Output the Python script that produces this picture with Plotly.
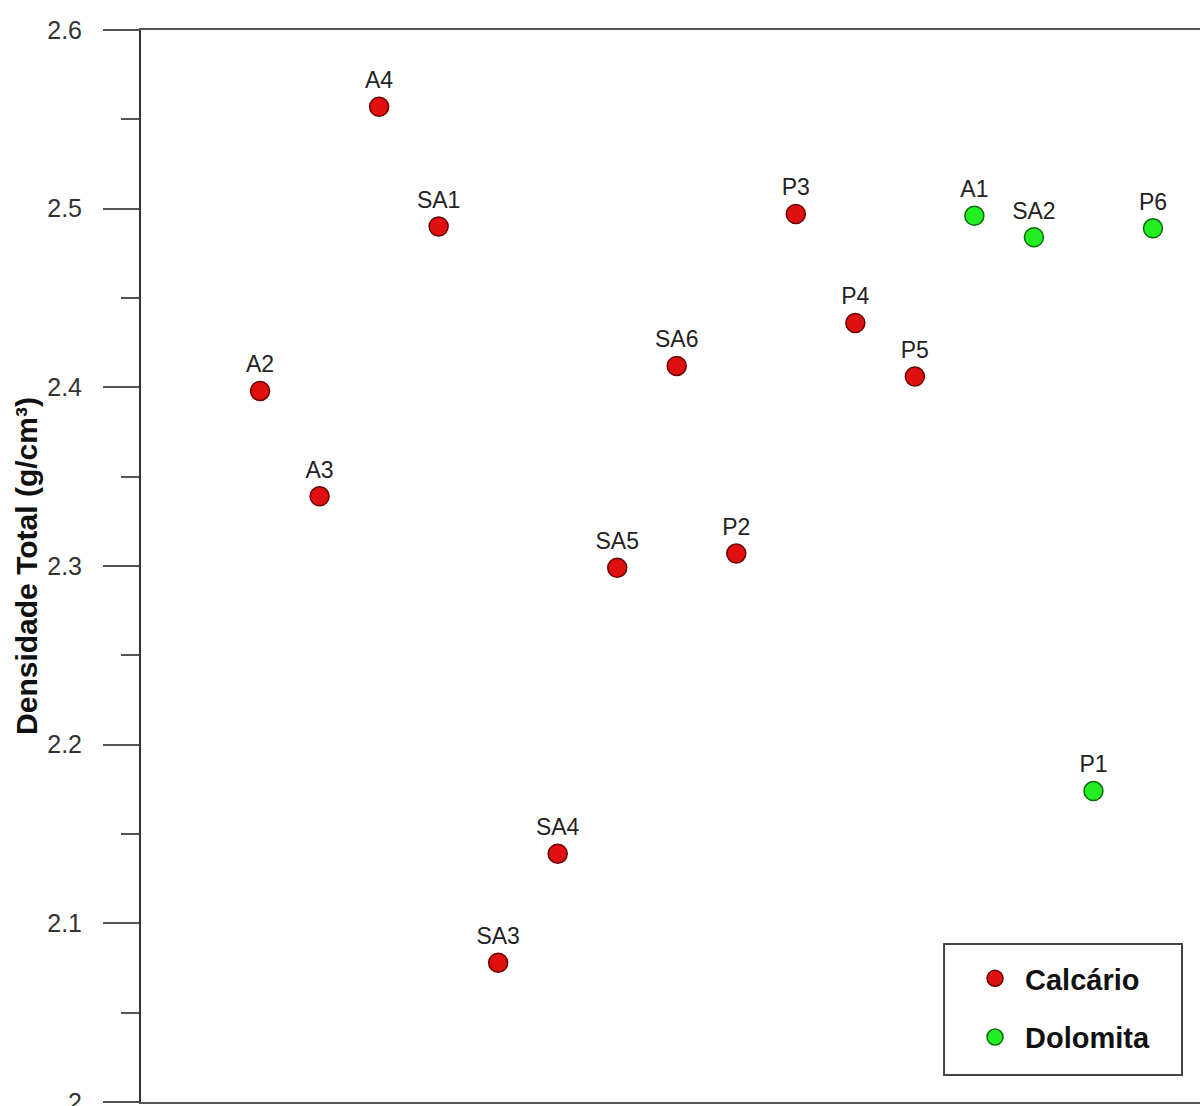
import plotly.graph_objects as go

# Data
calc_labels = ["A2", "A3", "A4", "SA1", "SA3", "SA4", "SA5", "SA6", "P2", "P3", "P4", "P5"]
calc_x = [2, 3, 4, 5, 6, 7, 8, 9, 10, 11, 12, 13]
calc_y = [2.398, 2.339, 2.557, 2.490, 2.078, 2.139, 2.299, 2.412, 2.307, 2.497, 2.436, 2.406]

dolo_labels = ["A1", "SA2", "P1", "P6"]
dolo_x = [14, 15, 16, 17]
dolo_y = [2.496, 2.484, 2.174, 2.489]

y_ticks = [2.0, 2.1, 2.2, 2.3, 2.4, 2.5, 2.6]
y_tick_text = ["2", "2.1", "2.2", "2.3", "2.4", "2.5", "2.6"]

FONT = "Liberation Sans, Arial"

fig = go.Figure()
fig.add_trace(go.Scatter(
    x=calc_x, y=calc_y, mode="markers+text", name="Calcário",
    text=calc_labels, textposition="top center",
    textfont=dict(family=FONT, size=23, color="#222222"),
    marker=dict(size=19, color="#e01010", line=dict(color="#6a0000", width=1.5)),
    legendgroup="c",
))
fig.add_trace(go.Scatter(
    x=dolo_x, y=dolo_y, mode="markers+text", name="Dolomita",
    text=dolo_labels, textposition="top center",
    textfont=dict(family=FONT, size=23, color="#222222"),
    marker=dict(size=19, color="#22ee22", line=dict(color="#0a6a0a", width=1.5)),
    legendgroup="d",
))

# legend frame
fig.add_shape(type="rect", xref="paper", yref="paper",
              x0=0.7583, x1=0.983, y0=0.0252, y1=0.1474,
              line=dict(color="#444444", width=2), fillcolor="white", layer="below")

fig.update_layout(
    width=1200, height=1106,
    margin=dict(l=141, r=0, t=30, b=4, autoexpand=False),
    plot_bgcolor="white", paper_bgcolor="white",
    font=dict(family=FONT, color="#222222"),
    showlegend=True,
    legend=dict(
        x=0.7781, y=0.1390, xanchor="left", yanchor="top",
        bgcolor="rgba(0,0,0,0)", borderwidth=0,
        font=dict(family=FONT, size=29, color="#111111", weight="bold"),
        tracegroupgap=18, itemsizing="trace", itemwidth=50,
    ),
    xaxis=dict(
        range=[0, 17.79], showgrid=False, zeroline=False, automargin=False,
        showline=True, mirror=True, linecolor="#555555", linewidth=2,
        showticklabels=False, ticks="",
    ),
    yaxis=dict(
        range=[2.0, 2.6], showgrid=False, zeroline=False, automargin=False,
        showline=True, mirror=False, linecolor="#333333", linewidth=2,
        tickmode="array", tickvals=y_ticks, ticktext=y_tick_text,
        ticks="outside", ticklen=36, tickwidth=2, tickcolor="#555555",
        ticklabelstandoff=16, ticklabeloverflow="allow",
        tickfont=dict(family=FONT, size=25, color="#333333"),
        minor=dict(ticks="outside", ticklen=18, tickwidth=2, tickcolor="#555555", dtick=0.05, tick0=2.0),
        title=dict(text="Densidade Total (g/cm³)", standoff=1,
                   font=dict(family=FONT, size=30, color="#111111", weight="bold")),
    ),
)

fig.write_html("out.html", config={"displayModeBar": False},
               post_script="document.body.style.margin='0';document.body.style.overflow='hidden';")
